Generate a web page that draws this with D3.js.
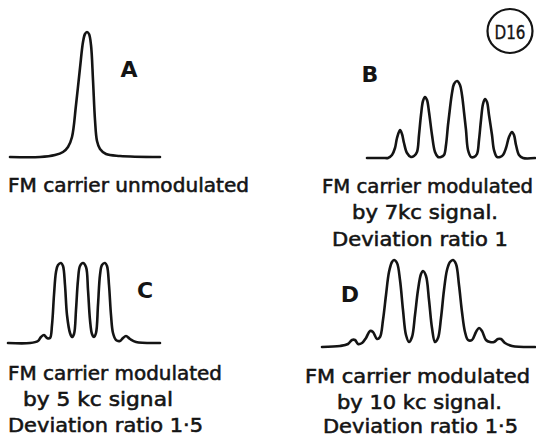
<!DOCTYPE html>
<html><head><meta charset="utf-8">
<script src="https://cdn.jsdelivr.net/npm/d3@7/dist/d3.min.js"></script>
<style>html,body{margin:0;padding:0;background:#fff;}svg{display:block;}</style>
</head><body>
<svg id="chart" width="536" height="438"></svg>
<script>
// Panel ids
const panels = ["A", "B", "C", "D"];

// Frequency offset from carrier (arbitrary units) and relative amplitude
const freqA = [-76,-46,-31,-23,-18,-14,-10,-6,-3,-1,1,3,5,7,9,11,14,20,34,74];
const ampA  = [0,0,2,5,10,20,52,89,115,123,125,123,112,77,37,16,8,3,1,0];

const freqB = [-90,-72,-69,-65,-62,-60,-57,-55,-53,-50,-46,-43,-40,-38,-36,-34,-32,-30,-28,-25,-22,-19,-16,-13,-11,-9,-7,-5,-3,0,3,5,7,9,11,14,17,20,22,24,26,28,30,32,35,37,40,43,46,49,52,55,57,59,62,66,78];
const ampB  = [0,0,0,3,10,20,28,24,15,5,1,2,6,23,43,57,61,58,46,23,6,1,1,3,13,33,50,65,74,77,73,63,46,28,8,1,1,4,18,38,54,59,56,43,23,8,1,1,3,10,21,26,23,13,3,0,0];

const freqC = [-75,-53,-45,-42,-39,-36,-33,-31,-29,-27,-25,-22,-20,-18,-16,-13,-11,-9,-7,-5,-3,0,3,5,7,9,11,13,15,17,19,22,24,26,28,30,33,37,40,43,47,53,77];
const ampC  = [0,0,2,6,8,5,5,18,48,71,78,80,77,58,28,10,6,9,33,63,77,80,76,53,23,9,6,10,38,68,78,80,77,58,28,10,3,2,5,7,4,1,0];

const freqD = [-101,-83,-75,-71,-68,-65,-61,-57,-53,-50,-46,-43,-40,-37,-34,-31,-29,-26,-23,-20,-17,-14,-11,-8,-5,-2,0,3,6,9,12,15,18,21,24,27,30,33,36,39,42,45,49,53,56,59,63,67,71,75,78,82,89,112];
const ampD  = [0,1,3,7,7,3,4,9,16,15,8,10,27,52,75,85,87,84,67,37,12,5,10,32,57,73,76,71,47,19,5,9,29,57,77,85,87,83,62,35,15,7,7,15,19,16,7,5,5,8,8,4,1,0];

// Caption lines
const captionA = ["FM carrier unmodulated"];
const captionB = ["FM carrier modulated", "by 7kc signal.", "Deviation ratio 1"];
const captionC = ["FM carrier modulated", "by 5 kc signal", "Deviation ratio 1·5"];
const captionD = ["FM carrier modulated", "by 10 kc signal.", "Deviation ratio 1·5"];
const figureTag = "D16";

// ---------- layout (not data) ----------
const layout = {
  A: {x0:10, x1:160, base:157, freq:freqA, amp:ampA, cap:captionA, lab:[129,77],
      lines:[[8,249,192]]},
  B: {x0:367, x1:535, base:158, freq:freqB, amp:ampB, cap:captionB, lab:[370,82],
      lines:[[322,533,193],[352,498,219],[332,508,246]]},
  C: {x0:8, x1:160, base:343, freq:freqC, amp:ampC, cap:captionC, lab:[145,298],
      lines:[[8,222,380],[23,173,406],[8,203,432]]},
  D: {x0:322, x1:535, base:347, freq:freqD, amp:ampD, cap:captionD, lab:[350,302],
      lines:[[305,530,383],[337,502,409],[323,518,433]]}
};

const svg = d3.select("#chart");
const ink = "#141414";
const textFont = "'DejaVu Sans', 'Noto Sans', sans-serif";

panels.forEach(id => {
  const p = layout[id];
  const x = d3.scaleLinear().domain(d3.extent(p.freq)).range([p.x0, p.x1]);
  const y = d3.scaleLinear().domain([0, 100]).range([p.base, p.base - 100]);
  const pts = p.freq.map((f, i) => [f, p.amp[i]]);
  const line = d3.line().x(d => x(d[0])).y(d => y(d[1])).curve(d3.curveCatmullRom.alpha(0.5));
  svg.append("path").attr("d", line(pts))
    .attr("fill", "none").attr("stroke", ink).attr("stroke-width", 2.6)
    .attr("stroke-linejoin", "round").attr("stroke-linecap", "round");

  svg.append("text").attr("x", p.lab[0]).attr("y", p.lab[1])
    .attr("text-anchor", "middle").attr("font-family", textFont)
    .attr("font-weight", "bold").attr("font-size", 22).attr("fill", ink).text(id);

  p.cap.forEach((t, i) => {
    const [a, b, bl] = p.lines[i];
    svg.append("text").attr("x", a).attr("y", bl)
      .attr("font-family", textFont).attr("font-size", 19)
      .attr("fill", ink).attr("stroke", ink).attr("stroke-width", 0.55)
      .attr("textLength", b - a).attr("lengthAdjust", "spacingAndGlyphs")
      .text(t);
  });
});

// figure tag
svg.append("ellipse").attr("cx", 510).attr("cy", 31).attr("rx", 22.5).attr("ry", 22)
  .attr("fill", "none").attr("stroke", ink).attr("stroke-width", 2.2);
svg.append("text").attr("x", 510).attr("y", 39).attr("text-anchor", "middle")
  .attr("font-family", textFont).attr("font-size", 20).attr("fill", ink)
  .attr("stroke", ink).attr("stroke-width", 0.4)
  .attr("textLength", 31).attr("lengthAdjust", "spacingAndGlyphs").text(figureTag);
</script>
</body></html>
